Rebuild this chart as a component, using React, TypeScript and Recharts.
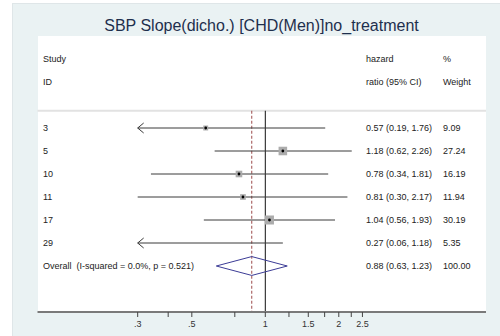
import { ComposedChart, XAxis, YAxis, Scatter, ReferenceLine } from "recharts";

// forest plot data
const studyIds = ["3", "5", "10", "11", "17", "29"];
const hazardRatio = [0.57, 1.18, 0.78, 0.81, 1.04, 0.27];
const ciLow = [0.19, 0.62, 0.34, 0.3, 0.56, 0.06];
const ciHigh = [1.76, 2.26, 1.81, 2.17, 1.93, 1.18];
const weightPct = [9.09, 27.24, 16.19, 11.94, 30.19, 5.35];

const overallLabel = "Overall  (I-squared = 0.0%, p = 0.521)";
const overallHR = 0.88;
const overallLow = 0.63;
const overallHigh = 1.23;
const overallWeight = 100;

const headerLeft = ["Study", "ID"];
const headerMid = ["hazard", "ratio (95% CI)"];
const headerRight = ["%", "Weight"];

const tickValues = [0.3, 0.4, 0.5, 0.75, 1, 1.25, 1.5, 1.75, 2, 2.25, 2.5];
const labeledTicks = [0.3, 0.5, 1, 1.5, 2, 2.5];
const labeledText = [".3", ".5", "1", "1.5", "2", "2.5"];

const title = "SBP Slope(dicho.) [CHD(Men)]no_treatment";

// plotting range (CIs are clipped to it, with arrows)
const xMin = 0.3;
const xMax = 2.5;

const FONT = "'Liberation Sans', Arial, sans-serif";
const COL_ID = 43;
const COL_CI = 366;
const COL_W = 443;

const fmt = (v: number) => v.toFixed(2);

const rows = studyIds.map((id, i) => ({
  x: hazardRatio[i],
  y: i,
  lo: ciLow[i],
  hi: ciHigh[i],
  w: weightPct[i],
  left: id,
  mid: `${fmt(hazardRatio[i])} (${fmt(ciLow[i])}, ${fmt(ciHigh[i])})`,
  right: fmt(weightPct[i]),
}));

const textRows = [
  ...headerLeft.map((h, i) => ({ x: 1, y: i - 3, left: h, mid: headerMid[i], right: headerRight[i] })),
  ...rows,
  {
    x: overallHR, y: studyIds.length, left: overallLabel,
    mid: `${fmt(overallHR)} (${fmt(overallLow)}, ${fmt(overallHigh)})`, right: fmt(overallWeight),
  },
];

const boxRows = rows.filter((r) => r.x >= xMin && r.x <= xMax);
const oy = studyIds.length;
const dh = 0.41;

function ciShape(arrowL: boolean, arrowR: boolean) {
  return (p: any) => {
    const { x1, y1, x2, y2 } = p;
    return (
      <g stroke="#3a3a3a" strokeWidth={1} fill="none">
        <line x1={x1} y1={y1} x2={x2} y2={y2} />
        {arrowL && <polyline points={`${x1 + 6},${y1 - 5} ${x1},${y1} ${x1 + 6},${y1 + 5}`} />}
        {arrowR && <polyline points={`${x2 - 6},${y2 - 5} ${x2},${y2} ${x2 - 6},${y2 + 5}`} />}
      </g>
    );
  };
}

function TextRow({ cy, payload }: any) {
  return (
    <g fontFamily={FONT} fontSize={9} fill="#222">
      <text x={COL_ID} y={cy + 3} xmlSpace="preserve" style={{ whiteSpace: "pre" }}>{payload.left}</text>
      <text x={COL_CI} y={cy + 3}>{payload.mid}</text>
      <text x={COL_W} y={cy + 3}>{payload.right}</text>
    </g>
  );
}

function Box({ cx, cy, payload }: any) {
  const s = 1.64 * Math.sqrt(payload.w);
  return (
    <g>
      <rect x={cx - s / 2} y={cy - s / 2} width={s} height={s} fill="#acacac" />
      <circle cx={cx} cy={cy} r={1.4} fill="#000" />
    </g>
  );
}

function AxisTick({ x, y, payload }: any) {
  const idx = labeledTicks.indexOf(payload.value);
  if (idx < 0) return null;
  return (
    <text x={x} y={y + 8} textAnchor="middle" fontFamily={FONT} fontSize={9} fill="#333">
      {labeledText[idx]}
    </text>
  );
}

export default function App() {
  return (
    <div style={{ position: "absolute", left: 0, top: 0, width: 500, height: 336, background: "#fff" }}>
      <div style={{
        position: "absolute", left: 12, top: 3, width: 488, height: 333, background: "#eaf2f3",
        borderLeft: "1px solid #dfe6e8", borderTop: "1px solid #dfe6e8", boxSizing: "border-box",
      }} />
      <div style={{ position: "absolute", left: 38, top: 36, width: 448, height: 276, background: "#fff" }} />
      <svg width={500} height={40} style={{ position: "absolute", left: 0, top: 0 }}>
        <text x={261.5} y={31} textAnchor="middle" fontFamily={FONT} fontSize={16} fill="#1e2f4d">{title}</text>
      </svg>
      <div style={{ position: "absolute", left: 0, top: 0 }}>
        <ComposedChart width={500} height={336} margin={{ top: 36, right: 14, bottom: 0, left: 37.5 }}>
          <XAxis
            dataKey="x" type="number" scale="log" domain={[0.1166, 8.02]} allowDataOverflow
            ticks={tickValues} interval={0} tick={<AxisTick />} tickSize={5}
            tickLine={{ stroke: "#444" }} axisLine={{ stroke: "#7a7a7a", strokeWidth: 2 }} height={24}
          />
          <YAxis dataKey="y" type="number" domain={[-4, 8]} reversed hide />
          <ReferenceLine y={-0.75} stroke="#e2e2e2" strokeWidth={2} />
          <ReferenceLine segment={[{ x: 1, y: -0.75 }, { x: 1, y: 8 }]} stroke="#111" strokeWidth={1} />
          <ReferenceLine
            segment={[{ x: overallHR, y: -0.75 }, { x: overallHR, y: 8 }]}
            stroke="#9b4a4a" strokeWidth={1} strokeDasharray="3 2"
          />
          {rows.map((r) => (
            <ReferenceLine
              key={r.left} ifOverflow="visible"
              segment={[{ x: Math.max(r.lo, xMin), y: r.y }, { x: Math.min(r.hi, xMax), y: r.y }]}
              shape={ciShape(r.lo < xMin, r.hi > xMax)}
            />
          ))}
          <ReferenceLine segment={[{ x: overallLow, y: oy }, { x: overallHR, y: oy - dh }]} stroke="#3c3c96" />
          <ReferenceLine segment={[{ x: overallHR, y: oy - dh }, { x: overallHigh, y: oy }]} stroke="#3c3c96" />
          <ReferenceLine segment={[{ x: overallHigh, y: oy }, { x: overallHR, y: oy + dh }]} stroke="#3c3c96" />
          <ReferenceLine segment={[{ x: overallHR, y: oy + dh }, { x: overallLow, y: oy }]} stroke="#3c3c96" />
          <Scatter data={boxRows} dataKey="y" shape={<Box />} isAnimationActive={false} />
          <Scatter data={textRows} dataKey="y" shape={<TextRow />} isAnimationActive={false} />
        </ComposedChart>
      </div>
    </div>
  );
}
